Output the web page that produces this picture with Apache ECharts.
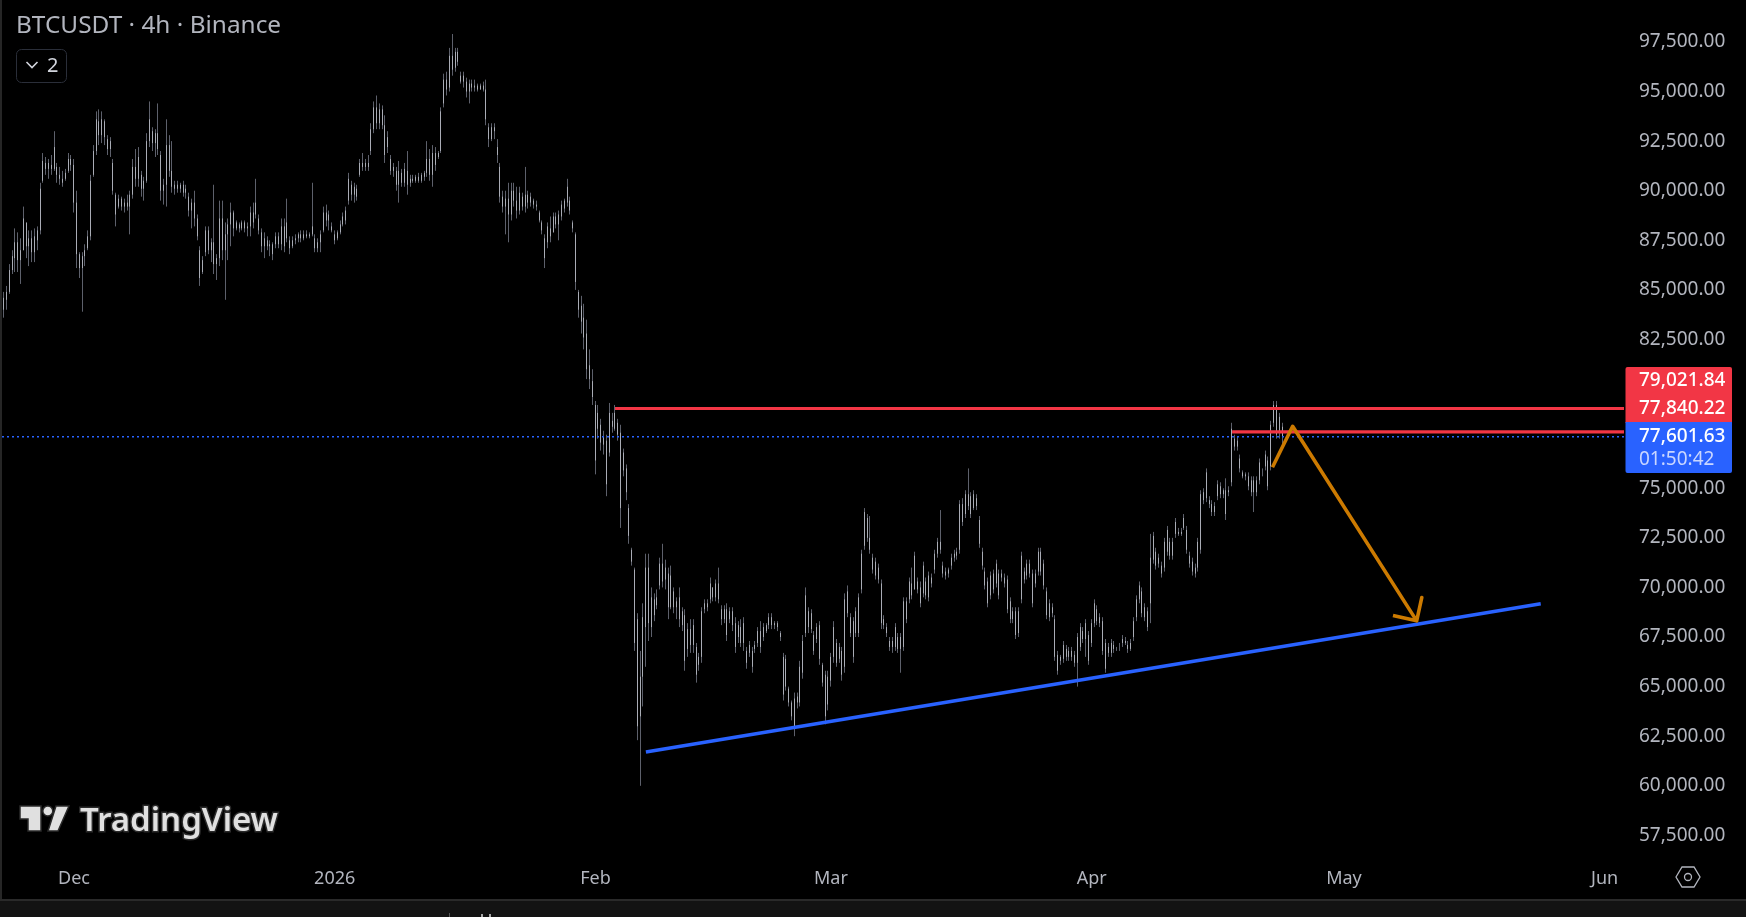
<!DOCTYPE html>
<html><head><meta charset="utf-8">
<style>html,body{margin:0;padding:0;background:#000;overflow:hidden}#c{width:1746px;height:917px}</style>
<script src="https://cdn.jsdelivr.net/npm/echarts@6/dist/echarts.min.js"></script>
</head><body><div id="c"></div>
<script>
// 8-hour bars, in thousands of USDT: [open, close, low, high]
const barsNov=[[84.3,84.0,83.4,84.6],[84.0,84.6,83.6,84.9],[84.5,84.9,84,85.2],[84.9,86,84.8,86.3],[86,86.7,85.8,87],[86.6,87.4,85.9,88.1],[87.4,86.5,85.9,87.9],[86.5,87,85.3,87.6],[87,88.6,87,89.2],[88.4,87.2,86.6,88.2],[87.2,87.6,86.2,88],[87.6,86.9,86.4,88],[86.9,87.7,86.4,88.1],[87.5,88,87,88.2],[88,90.1,87.8,90.4],[90.5,91.5,90.4,91.9],[91.4,91.1,90.8,91.7],[91.1,91.4,90.6,91.6],[91.3,91.1,90.8,91.8],[91.1,92.2,91,93],[91.2,90.8,90.4,91.4],[90.8,90.6,90.3,91.2],[90.6,90.4,90.2,91],[90.6,90.9,90.5,91.1],[91,91.6,90.9,91.9],[91.6,91.3,91,91.8]];
const barsDec=[[91.3,89.4,88.9,91.6],[89.4,86.8,86.1,90],[86.8,86.1,85.6,86.9],[86.1,86.7,83.9,86.9],[86.7,87,86.2,87.3],[87.1,87.7,87,88],[87.7,90.5,87.5,90.8],[90.8,92,90.7,92.3],[92,93.6,91.8,94],[93.5,92.8,92.3,94.1],[92.8,93.6,92.4,94],[93.5,92.7,92.3,93.6],[92.6,92.1,91.8,92.8],[92.1,92.5,91.7,92.7],[91.4,90,89.8,91.6],[89.8,88.8,88.2,89.9],[89.2,89.6,89.1,89.8],[89.6,89.2,89,89.7],[89.2,89.4,88.9,89.6],[89.4,89.2,89,89.8],[89.2,89.8,87.8,90],[89.8,91.2,89.6,91.6],[91.2,90.6,90.2,92.1],[90.6,91.7,90.2,92.2],[90.8,90.1,89.7,91],[90.1,90.5,89.5,90.7],[90.5,92.5,90.4,92.9],[92.5,93.6,92.2,94.5],[93,92.4,92,93.2],[92.4,92.9,91.7,93.1],[92.9,92.1,91.8,94.4],[91.8,90,89.5,92],[90,90.3,89.3,90.6],[90.3,92.3,89.2,93.6],[92.3,91,90.7,92.8],[91,90.2,89.9,92.5],[90.1,90.3,89.8,90.5],[90.3,90.1,89.9,90.5],[90.1,90.3,89.9,90.4],[90.3,89.9,89.7,90.5],[89.9,90.1,89.6,90.3],[89.7,89,88.7,89.9],[89,89.4,88.1,89.6],[89.4,88.6,88.2,90],[88.6,87.7,87.5,88.8],[87,85.6,85.2,87.2],[85.9,86.5,85.8,86.7],[86.9,88,86.7,88.2],[88,87,86.8,88.2],[87,87.4,86.4,87.6],[87.4,86.3,85.8,90.3],[86.3,86.6,85.5,86.8],[86.6,88.6,86.2,89.5],[88.6,87,86.5,89.5],[87,87.8,84.5,88.4],[87.8,88.3,86.5,88.6],[88.3,88.9,87.2,89.4],[88.9,88.1,87.7,89],[88.1,88.4,88,88.5],[88.3,88.1,87.9,88.4],[88.1,88.4,88,88.5],[88.4,88.1,87.9,88.5],[88.1,88.2,87.7,88.4],[88.2,88.9,87.7,89.2],[88.9,88.4,88.1,89.4],[88.8,89.4,88.6,90.6],[88.6,88,87.8,88.8],[87.9,87.2,86.9,88.1],[87.2,87.6,86.6,87.9],[87.5,87.2,87,87.7],[87.2,87.3,86.7,87.5],[87.3,86.8,86.5,87.4],[87.3,87.7,87.1,87.9],[87.7,87.3,87.1,87.9],[87.3,88.2,87,88.6],[88.2,87.2,86.9,88.6],[87.6,88.4,87.4,89.6],[87.5,87.1,86.8,87.7],[87.2,87.5,87.1,87.7],[87.5,87.6,87.3,87.8],[87.6,87.8,87.4,87.9],[87.8,87.6,87.4,88],[87.6,87.8,87.5,88],[87.8,87.7,87.6,88],[87.7,87.8,87.6,87.9],[87.8,88.2,87.7,90.4],[87.6,87.1,86.9,87.8],[87.1,87.4,86.9,87.6],[87.4,87.8,86.9,88],[88,88.9,87.9,89.2],[88.9,88.5,88.2,89.3],[88.5,88.8,88,89],[88.2,88,87.9,88.4]];
const barsJan=[[87.8,87.5,87.3,88],[87.6,87.9,87.5,88],[87.9,88.3,87.8,88.5],[88.3,88.7,88.2,88.9],[88.5,89,88.3,89.2],[89.5,90.6,89.3,90.9],[90.3,89.8,89.5,90.5],[89.8,90.2,89.4,90.4],[90.1,89.7,89.5,90.3],[90.8,91.4,90.7,91.6],[91.4,91.2,91,91.9],[91.2,91.4,91,91.6],[91.4,91.2,91,91.8],[92,93.1,91.8,93.4],[93.1,94.2,92.9,94.5],[94.2,93.4,93.1,94.8],[93.4,94.1,93.1,94.4],[94.1,93.3,93.1,94.3],[93.3,91.8,91.4,93.8],[92.2,92.7,91.9,93],[91.6,91,90.8,91.8],[91,91.2,90.7,91.4],[91,90.3,90,91.2],[90.3,91,89.4,91.5],[90.9,90.4,90.2,91.1],[90.4,91.1,90.2,91.4],[91,90.3,89.8,92],[90.4,90.6,90.2,90.8],[90.6,90.5,90.4,90.8],[90.5,90.7,90.4,90.8],[90.7,90.5,90.4,90.9],[90.5,90.8,90.4,90.9],[90.7,90.9,90.5,91],[90.9,91.6,90.7,92.5],[91.6,90.8,90.5,92.1],[90.8,91.9,90.2,92.3],[91.9,91.3,91,92.2],[91.7,91.9,91.6,92],[92,94,91.9,94.2],[94.4,95.6,94.2,95.9],[95.6,95.1,94.8,96],[95.2,96.8,95,97.2],[96.8,96.1,95.8,97.9],[96.2,97,96,97.2],[97,96.5,96.3,97.2],[95.8,95.5,95.4,96],[95.5,95.8,95.2,96],[95.5,95,94.7,95.7],[95,95.4,94.4,95.6],[95.4,95.2,95,95.6],[95.2,95.3,95,95.6],[95.3,95.1,95,95.4],[95.1,95.3,95.1,95.4],[95.3,95.1,95,95.5],[95.1,93.6,93.3,95.6],[93.2,92.6,92.2,93.4],[92.6,93.2,92.5,93.4],[93.2,93,92.6,93.4],[92.2,91.8,91.4,92.6],[91.2,89.7,89.4,91.4],[89.7,89.2,88.9,90],[89.2,89.6,87.8,90],[89.6,88.8,87.4,90.4],[88.8,90,88.5,90.4],[90,89.5,89.2,90.4],[89.5,89,88.6,90.2],[89,89.9,88.8,90.2],[89.7,89.2,89,89.9],[89.2,89.8,88.9,91.2],[89.8,89.4,89.1,90],[89.4,89.7,89.2,89.9],[89.5,89.3,89.1,89.6],[89.3,89.2,89,89.5],[88.9,88.5,88.4,89],[88.4,88,87.8,88.5],[87.6,86.6,86.1,87.8],[87.4,88.2,87.1,88.4],[88.1,87.7,87.4,88.7],[87.9,88.7,87.9,88.9],[88.7,88.3,88.1,88.9],[88.3,88.8,87.5,89],[88.7,89.3,88.5,89.5],[89.1,89.5,88.9,89.6],[89.4,90.2,89.2,90.6],[89.5,89,88.8,89.7],[88.4,88.1,87.9,88.5],[87.8,85.4,85,87.9],[84.9,84,83.6,85],[84.2,83.4,82.8,84.7],[83.6,82.6,82,84.3],[82.8,81,80.5,83.5],[81.2,80.5,80,82],[80.4,79.6,79.2,81]];
const barsFeb=[[79.2,76.4,75.7,79.4],[78,78.8,77.5,79.2],[78.2,77.3,76.9,78.5],[77.2,77.6,76.7,77.9],[77.4,75.2,74.6,77.7],[76.8,78.8,76.6,79.3],[78.4,78.1,77.8,78.8],[78,78.8,77.9,79.2],[78.3,77.7,77.4,78.5],[77.8,74,73,78.2],[76.8,75.9,75.6,77],[76,74.8,74.4,76.2],[74,72.6,72.2,74.2],[71.9,71.3,71.1,72],[70.9,67.2,66.8,71],[68.4,63,62.3,68.7],[63.5,65.5,60,66.8],[65.5,68.5,64,69.2],[68,71,66,71.7],[71,68.2,67.3,71.7],[69.5,68,67.5,70],[68.6,69.4,68.3,69.7],[69.5,69.1,68.9,69.9],[70.1,71.2,69.9,71.5],[71.2,70.3,70,72.2],[70.4,71,69.9,71.4],[70.7,69,68.4,71],[69,70.6,68.9,71.1],[69.8,69,68.7,70],[69,69.3,68.4,69.5],[69.5,68.4,68,70],[68.8,68.1,67.8,69],[68.6,66.3,65.8,68.9],[66.9,67.9,66.5,68.2],[67.9,67.1,66.7,68.4],[67.1,68.1,66.7,68.4],[67,65.6,65.2,67.2],[66.1,66.5,65.8,66.7],[66.5,68.8,66.2,69],[68.9,69.2,68.7,69.4],[69.2,69,68.8,69.4],[69.4,70.2,69.2,70.5],[70,69.5,69.3,70],[69.5,70.2,69.3,70.4],[70.2,69.4,69.2,71],[68.9,68.4,68.1,69.1],[68.4,68.9,68.2,69.1],[68.9,67.6,67.3,69.2],[68.4,68.8,68.2,69],[68.8,68.1,67.8,69],[68.2,67,66.7,68.5],[67.5,68.1,67.2,68.3],[68,67.2,67,68.4],[67.2,68.2,66.8,68.5],[66.8,66.2,65.9,67],[66.7,67.1,66.5,67.3],[66.8,66,65.7,67],[66.9,67.1,66.7,67.3],[67.2,67.8,67,68],[67.8,67,66.7,68.3],[67.5,68,67.3,68.2],[67.8,68.1,67.7,68.2],[68.1,68.5,67.9,68.7],[68.5,68.1,67.9,68.7],[68.1,68.2,67.9,68.3],[68.2,68,67.8,68.3],[67.7,67.5,67.3,67.8],[66.5,64.6,64.3,66.7],[66.4,65,64.8,66.6],[64.9,64.2,64,65],[64.2,63.5,63.3,64.3],[64.4,63,62.5,64.7],[64.2,64.5,63.9,64.7],[64.2,66,64,66.3],[65.7,67.3,65.4,67.6],[67.7,69.6,67.5,70],[68.8,68,67.7,69],[67.9,68.7,67.7,68.9],[67.6,66.8,66.6,67.8],[67.4,68,67.2,68.2],[68.1,66.4,66.1,68.3],[66.1,65.2,65,66.2],[65.6,63.5,63.1,65.8],[64.1,65.5,63.8,65.8]];
const barsMar=[[65.3,66.5,65,66.7],[66.5,68,66.2,68.3],[67.2,66.2,66,67.4],[66.4,67,66.2,67.2],[66.8,65.6,65.3,67],[66,69.4,65.7,69.7],[69.8,68.7,68.5,70.1],[67.7,68.5,67.5,68.7],[68.3,66.5,66.2,68.5],[67.7,68.8,67.5,69],[67.7,69.5,67.5,69.7],[69.9,71.7,69.7,71.9],[72.1,73.8,71.9,74],[73.5,72.5,72.3,73.7],[72.5,71.9,71.7,73.6],[71.5,70.9,70.7,71.7],[70.6,71.3,70.4,71.5],[71,70.4,70.2,71.2],[70.2,68.2,67.9,70.4],[68.1,68.4,67.9,68.6],[68,67.7,67.5,68.2],[67.3,67,66.8,67.5],[67,67.3,66.7,67.5],[67,68,66.8,68.2],[67.5,66.9,66.7,67.7],[66.9,67.5,65.7,67.7],[67,69.3,66.8,69.5],[69.3,68.4,68.2,69.5],[69.4,70.3,69.2,70.5],[70.2,69.6,69.4,71],[69.9,71.6,69.9,71.8],[70.3,69.9,69.7,70.5],[70,69.2,69,70.3],[69.7,71.1,69.5,71.3],[70.3,69.6,69.4,70.5],[69.5,70.6,69.3,70.8],[70.5,70.2,70,70.7],[70.9,71.7,70.7,71.9],[71.7,72.3,71.5,72.5],[72.3,71.9,71.7,73.9],[71.1,70.7,70.5,71.3],[70.8,70.6,70.4,71],[70.7,70.9,70.5,71],[71.1,71.5,70.9,71.7],[71.5,71.7,71.3,71.9],[71.6,71.8,71.4,72],[71.9,74.2,71.7,74.4],[74.2,73.3,73.1,74.5],[73.7,74.7,73.5,74.9],[74.7,74.1,73.9,76],[74.6,73.7,73.5,74.8],[74,74.7,73.9,74.9],[74.5,74.1,73.9,74.7],[73.4,72.2,72,73.6],[71.8,71.1,70.9,72],[70.8,70.1,69.9,71],[70.3,69.2,69,70.5],[69.6,70.6,69.4,70.8],[70.7,69.9,69.7,70.9],[70.2,71.2,70,71.4],[70.7,69.6,69.4,70.9],[70.5,70.7,70.3,70.9],[70.5,70.2,70,70.7],[70.4,68.9,68.7,70.6],[69.3,68.4,68.2,69.5],[68.4,68.8,68.2,69],[68.8,67.6,67.4,69],[67.7,68.8,67.5,69],[69.4,71.6,69.2,71.8],[70.8,70.4,70.2,71],[70.6,71.2,70.4,71.4],[71.2,70.7,70.5,71.4],[70.7,69.2,69,70.9],[70.2,70.7,70,70.9],[70.8,71.8,70.6,72],[71.8,70.8,70.6,72],[71.2,70.1,69.9,71.4],[69.8,68.6,68.4,70],[69.2,68.5,68.3,69.4],[68.7,69,68.5,69.2],[68.4,66.5,66.3,68.6],[66.6,65.8,65.6,66.8],[66.3,66.5,66.1,66.6],[66.4,67.1,66.2,67.3],[66.9,66.5,66.3,67.1],[66.5,66.8,66.3,67],[66.8,66.5,66.3,67],[66.6,66.2,66,66.8],[66.2,67.5,65,67.7],[67,68,66.8,68.2],[67.8,67.4,67.2,68],[67.4,68.2,66.5,68.4],[67.6,66.3,66.1,67.8]];
const barsApr=[[67.2,68.2,67,68.4],[68.2,69.2,68,69.4],[68.9,68.3,68.1,69.1],[68.2,68.5,68,68.7],[68.3,66.8,66.6,68.5],[67.2,65.9,65.7,67.4],[66.7,67,66.5,67.2],[67.2,66.7,66.5,67.4],[66.9,67.1,66.7,67.3],[66.9,66.9,66.8,67],[67,67,66.8,67.2],[67.2,67.4,67,67.6],[67.3,67.2,67.1,67.5],[67.1,66.9,66.7,67.3],[66.9,67.2,66.8,67.4],[67.5,68.3,67.3,68.5],[68.5,69.4,68.3,69.6],[69.4,70.1,69.2,70.3],[69.8,68.7,68.5,70],[69,68.5,68.3,69.2],[68.8,68,67.8,69],[69.2,71.5,68.2,72.7],[71.4,72.6,71.2,72.8],[71.8,71.1,70.9,72],[71.2,71.5,71,71.7],[71.1,70.7,70.5,71.3],[71,72.3,70.8,72.5],[71.8,72.9,71.6,73.1],[72.3,71.6,71.4,72.5],[71.6,72.3,71.4,72.5],[72.7,73.3,72.5,73.5],[72.8,72.7,72.6,73],[72.7,72.8,72.6,73],[73,73.5,72.9,73.7],[72.9,71.9,71.7,73.1],[71.6,71.2,71,71.8],[71.3,70.8,70.6,71.5],[70.7,71,70.5,71.2],[71,72.3,70.8,72.5],[71.9,74.7,71.7,74.9],[74.4,74.8,74.2,75],[74.5,75.8,74.3,76],[74.4,74.2,74,74.6],[74.2,73.8,73.6,74.4],[73.8,74.1,73.6,74.3],[74.6,75.2,74.4,75.4],[75.1,74.7,74.5,75.3],[74.7,74.9,74.5,75],[74.9,73.7,73.4,75.5],[74.8,74.9,74.6,75.1],[75.3,78,75.1,78.3],[77.5,77.1,76.9,77.7],[77.1,77.4,76.9,77.6],[76.5,76,75.8,76.7],[75.8,75.6,75.5,75.9],[75.6,75.7,75.4,75.8],[75.6,75.1,74.9,75.8],[75.4,74.8,74.6,75.6],[74.8,75.4,73.8,75.6],[75.4,74.8,74.6,75.6],[75.4,76.3,75.2,76.5],[75.8,75.8,75.6,76],[76.1,76.7,75.9,76.9],[76.4,75.1,74.9,76.6],[76.1,78.2,75.9,78.4],[78.3,79.2,78.1,79.4],[79.2,77.7,77.5,79.4],[77.8,78.6,77.5,78.8],[78.1,77.6,77.2,78.3]];
// month in which each bar block starts (UTC year, month, day)
const barStarts=[[2025,10,22.3333],[2025,11,1],[2026,0,1],[2026,1,1],[2026,2,1],[2026,3,1]];
const priceTicks=[97500,95000,92500,90000,87500,85000,82500,75000,72500,70000,67500,65000,62500,60000,57500];
const timeTickDays=[[2025,11,1],[2026,0,1],[2026,1,1],[2026,2,1],[2026,3,1],[2026,4,1],[2026,5,1]];
const timeTickLabels=['Dec','2026','Feb','Mar','Apr','May','Jun'];
const upperLevel=79021.84, lowerLevel=77840.22, lastPrice=77601.63;
const upperLevelStart=[2026,1,3.33], lowerLevelStart=[2026,3,17.7];
const trendLine=[[[2026,1,7],61706],[[2026,4,24.4],69177]];
const arrowPath=[[[2026,3,22.5],76058],[[2026,3,24.9],78123],[[2026,4,9.65],68315],[[2026,4,10.26],69494],[[2026,4,9.65],68315],[[2026,4,6.83],68587]];
const tagTexts=['79,021.84','77,840.22','77,601.63','01:50:42'];
const titleText='BTCUSDT · 4h · Binance', legendCount='2', logoText='TradingView';

const T=a=>Date.UTC(a[0],a[1],1)+(a[2]-1)*864e5;
const H8=8*36e5;
const blocks=[barsNov,barsDec,barsJan,barsFeb,barsMar,barsApr];
const wicks=[],bodies=[];
blocks.forEach((rows,b)=>{const t0=T(barStarts[b]);rows.forEach((r,i)=>{const t=t0+i*H8,[o,c,l,h]=r.map(v=>v*1000);wicks.push([t,l,h,l,h]);bodies.push([t,o,c,o,c]);});});
const timeTicks=timeTickDays.map(T);
const xMin=T([2025,11,1])-8.561*864e5, xMax=T([2025,11,1])+184.3*864e5;
const FONT='"Noto Sans"';
const txt=(text,x,y,fill,font,extra)=>({type:'text',silent:true,z:20,style:Object.assign({text,x,y,fill,font,textVerticalAlign:'middle'},extra||{})});
const chart=echarts.init(document.getElementById('c'),null,{renderer:'canvas'});
const flat=c=>({color:c,color0:c,borderColor:c,borderColor0:c,borderColorDoji:c,borderWidth:1});
chart.setOption({
 animation:false,backgroundColor:'#000',
 grid:{left:2,right:122,top:0.6,bottom:61},
 xAxis:{type:'value',min:xMin,max:xMax,axisLine:{show:false},axisTick:{show:false},splitLine:{show:false},
  axisLabel:{customValues:timeTicks,color:'#b2b5be',fontFamily:FONT,fontSize:18,margin:14,hideOverlap:false,
   formatter:v=>timeTickLabels[timeTicks.indexOf(+v)]||''}},
 yAxis:{type:'value',position:'right',min:56461,max:99584,axisLine:{show:false},axisTick:{show:false},splitLine:{show:false},
  axisLabel:{customValues:priceTicks,color:'#b2b5be',fontFamily:FONT,fontSize:19,margin:15,align:'left',padding:[0,0,2,0],
   formatter:v=>Number(v).toLocaleString('en-US',{minimumFractionDigits:2,maximumFractionDigits:2})}},
 series:[
  {type:'candlestick',name:'wicks',data:wicks,barWidth:1,itemStyle:flat('#5d606b'),z:2,encode:{x:0,y:[1,2,3,4]}},
  {type:'candlestick',name:'bodies',data:bodies,barWidth:1,itemStyle:flat('#a9acb5'),z:3,encode:{x:0,y:[1,2,3,4]}},
  {type:'line',data:[[xMin,lastPrice],[xMax,lastPrice]],symbol:'none',lineStyle:{color:'#2962ff',width:1.5,type:[2,3]},z:4},
  {type:'line',data:[[T(upperLevelStart),upperLevel],[xMax,upperLevel]],symbol:'none',lineStyle:{color:'#f23645',width:3.2},z:5},
  {type:'line',data:[[T(lowerLevelStart),lowerLevel],[xMax,lowerLevel]],symbol:'none',lineStyle:{color:'#f23645',width:3.2},z:5},
  {type:'line',data:trendLine.map(p=>[T(p[0]),p[1]]),symbol:'none',lineStyle:{color:'#2962ff',width:3.5},z:5},
  {type:'line',data:arrowPath.map(p=>[T(p[0]),p[1]]),symbol:'none',lineStyle:{color:'#cc7a00',width:3.6,join:'round'},z:6}
 ],
 graphic:[
  {type:'rect',silent:true,z:1,shape:{x:0,y:0,width:2,height:899},style:{fill:'#262626'}},
  {type:'rect',silent:true,z:15,shape:{x:0,y:900,width:1746,height:17},style:{fill:'#131313'}},
  {type:'rect',silent:true,z:16,shape:{x:0,y:899,width:1746,height:2},style:{fill:'#2a2a2a'}},
  {type:'rect',silent:true,z:16,shape:{x:449,y:913,width:1,height:4},style:{fill:'#555'}},
  {type:'rect',silent:true,z:16,shape:{x:481,y:914,width:2,height:3},style:{fill:'#aaa'}},
  {type:'rect',silent:true,z:16,shape:{x:489,y:914,width:2,height:3},style:{fill:'#aaa'}},
  txt(titleText,16,26,'#b2b5be','24.4px '+FONT),
  {type:'rect',silent:true,z:20,shape:{x:16.5,y:49.5,width:50,height:33,r:5},style:{fill:'#000',stroke:'#2a2e39',lineWidth:1}},
  {type:'polyline',silent:true,z:21,shape:{points:[[26.5,62],[32,67.5],[37.5,62]]},style:{stroke:'#d1d4dc',lineWidth:1.6,fill:'none'}},
  txt(legendCount,47,66,'#d1d4dc','20px '+FONT),
  {type:'polygon',silent:true,z:20,shape:{points:[[20,806],[41,806],[41,831],[28,831],[28,819],[20,819]]},style:{fill:'#e0e0e0',stroke:'#2a2a2a',lineWidth:1.5}},
  {type:'circle',silent:true,z:20,shape:{cx:47.8,cy:811,r:5},style:{fill:'#e0e0e0',stroke:'#2a2a2a',lineWidth:1.5}},
  {type:'polygon',silent:true,z:20,shape:{points:[[56,806],[69,806],[58,831],[48,831]]},style:{fill:'#e0e0e0',stroke:'#2a2a2a',lineWidth:1.5}},
  txt(logoText,80,822,'#e0e0e0','600 33px '+FONT,{stroke:'#2a2a2a',lineWidth:3}),
  {type:'polygon',silent:true,z:20,shape:{points:[[1676,877],[1682,867],[1694,867],[1700,877],[1694,887],[1682,887]]},style:{fill:'none',stroke:'#b2b5be',lineWidth:1.3}},
  {type:'circle',silent:true,z:20,shape:{cx:1688,cy:877,r:3.5},style:{fill:'none',stroke:'#b2b5be',lineWidth:1.3}},
  {type:'rect',silent:true,z:20,shape:{x:1625.5,y:367,width:106.5,height:56,r:[2,2,0,0]},style:{fill:'#f23645'}},
  {type:'rect',silent:true,z:20,shape:{x:1625.5,y:422,width:106.5,height:51,r:[0,0,2,2]},style:{fill:'#2962ff'}},
  txt(tagTexts[0],1639,381,'#fff','500 19px '+FONT),
  txt(tagTexts[1],1639,409,'#fff','500 19px '+FONT),
  txt(tagTexts[2],1639,437,'#fff','500 19px '+FONT),
  txt(tagTexts[3],1639,460,'#c9d6ff','19px '+FONT)
 ]
});
</script></body></html>
